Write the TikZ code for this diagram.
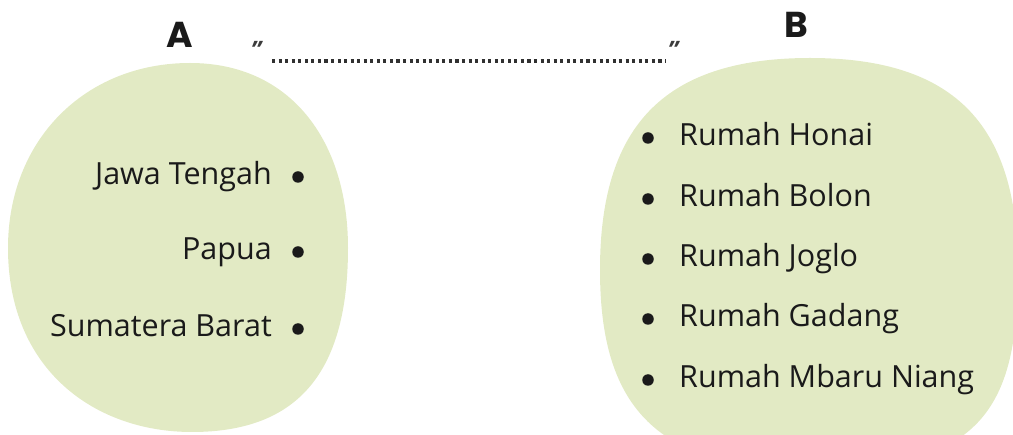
\documentclass[tikz,border=0pt]{standalone}
\usepackage{fontspec}
\setmainfont{Open Sans}
\newfontfamily\titlefont{Poppins}
\definecolor{blobgreen}{HTML}{E2EAC4}
\definecolor{inkdark}{HTML}{1A1A1A}
\begin{document}
\begin{tikzpicture}[x=1pt,y=-1pt,
  blob/.style={fill=blobgreen,draw=none},
  item/.style={inner sep=0pt,font=\fontsize{30.5}{33}\selectfont,text=inkdark},
  bul/.style={circle,fill=inkdark,inner sep=0pt,minimum size=11.5pt},
  title/.style={inner sep=0pt,font=\titlefont\bfseries\fontsize{36}{40}\selectfont,text=inkdark},
  quote/.style={inner sep=0pt,font=\bfseries\itshape\fontsize{24}{24}\selectfont,text=inkdark!85},
  dotline/.style={draw=inkdark!90,line width=3.1pt,dash pattern=on 3.1pt off 3.45pt}]
\useasboundingbox (0,0) rectangle (1013,435);
% blobs
\fill[blob] (190,63) .. controls (290,63) and (348,140) .. (348,248)
  .. controls (348,370) and (300,432) .. (192,432)
  .. controls (95,432) and (8,370) .. (8,248)
  .. controls (8,140) and (85,63) .. (190,63) -- cycle;
\fill[blob] (810,58) .. controls (960,58) and (1018,130) .. (1018,270)
  .. controls (1018,410) and (980,470) .. (810,470)
  .. controls (650,470) and (600,400) .. (600,270)
  .. controls (600,130) and (660,58) .. (810,58) -- cycle;
% titles
\node[title] (A) at (180,35) {A};
\node[title] (B) at (796,25) {B};
% quotes and dotted line
\node[quote] (q1) at (256,50) {"};
\node[quote] (q2) at (673,50) {"};
\coordinate (d1) at (272,61);
\coordinate (d2) at (666,61);
\draw[dotline] (d1) -- (d2);
% left items
\node[item,anchor=base east] (l1) at (272,185) {Jawa Tengah};
\node[item,anchor=base east] (l2) at (272,260) {Papua};
\node[item,anchor=base east] (l3) at (272,337) {Sumatera Barat};
\node[bul] (lb1) at (298,177) {};
\node[bul] (lb2) at (298,252) {};
\node[bul] (lb3) at (298,329) {};
% right items
\node[bul] (rb1) at (648,138) {};
\node[bul] (rb2) at (648,199) {};
\node[bul] (rb3) at (648,259) {};
\node[bul] (rb4) at (648,319) {};
\node[bul] (rb5) at (648,380) {};
\node[item,anchor=base west] (r1) at (679,146) {Rumah Honai};
\node[item,anchor=base west] (r2) at (679,207) {Rumah Bolon};
\node[item,anchor=base west] (r3) at (679,267) {Rumah Joglo};
\node[item,anchor=base west] (r4) at (679,327) {Rumah Gadang};
\node[item,anchor=base west] (r5) at (679,388) {Rumah Mbaru Niang};
\end{tikzpicture}
\end{document}
